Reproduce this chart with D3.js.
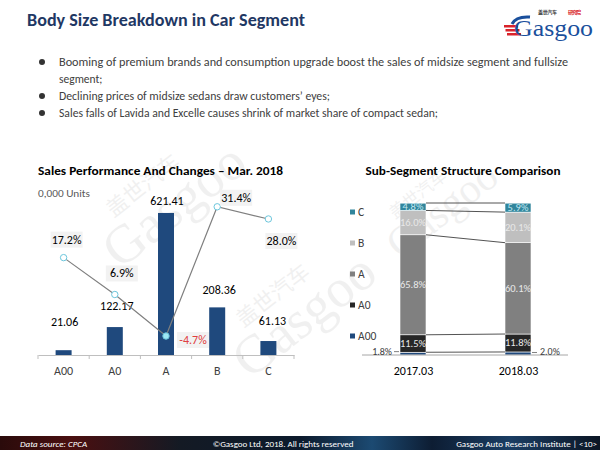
<!DOCTYPE html>
<html><head><meta charset="utf-8">
<script src="https://cdn.jsdelivr.net/npm/d3@7"></script>
<style>body{margin:0;background:#fff}svg{display:block}</style>
</head><body>
<script>
// ---- data ----
const categories = ["A00","A0","A","B","C"];
const sales = [21.06,122.17,621.41,208.36,61.13];
const growth = [17.2,6.9,-4.7,31.4,28.0];
const periods = ["2017.03","2018.03"];
const segments = ["A00","A0","A","B","C"];
const share2017 = [1.8,11.5,65.8,16.0,4.8];
const share2018 = [2.0,11.8,60.1,20.1,5.9];
const bullets = [
 "Booming of premium brands and consumption upgrade boost the sales of midsize segment and fullsize",
 "segment;",
 "Declining prices of midsize sedans draw customers’ eyes;",
 "Sales falls of Lavida and Excelle causes shrink of market share of compact sedan;"
];

const W=600,H=450;
const svg=d3.select("body").append("svg").attr("width",W).attr("height",H);
const F="Carlito, Lato, 'Liberation Sans', sans-serif";

// footer gradient
const defs=svg.append("defs");
const lg=defs.append("linearGradient").attr("id","fg").attr("x1","0").attr("x2","1");
[[0,"#2a0b0b"],[0.12,"#4a0f10"],[0.3,"#141a24"],[0.5,"#0c1a2c"],[0.62,"#1c4a72"],[0.72,"#0d1d33"],[0.85,"#1a3d63"],[1,"#0b1524"]].forEach(s=>lg.append("stop").attr("offset",s[0]).attr("stop-color",s[1]));

// watermarks
function watermark(x,y,rot,s){
  const g=svg.append("g").attr("transform",`translate(${x},${y}) rotate(${rot}) scale(${s})`).attr("opacity",0.09);
  g.append("text").attr("x",0).attr("y",0).attr("font-family","'Liberation Serif',serif").attr("font-size",60).attr("fill","#666").text("Gasgoo");
  g.append("text").attr("x",30).attr("y",-50).attr("font-family","'Noto Sans CJK SC',sans-serif").attr("font-size",24).attr("fill","#666").text("盖世汽车");
}
watermark(120,270,-38,0.9);
watermark(250,380,-38,0.9);
watermark(400,260,-38,0.7);

// title
svg.append("text").attr("x",27).attr("y",26).attr("font-family",F).attr("font-weight","bold").attr("font-size",18).attr("fill","#1F3864")
  .attr("textLength",278).attr("lengthAdjust","spacingAndGlyphs").text("Body Size Breakdown in Car Segment");

// logo
const lgG=svg.append("g");
lgG.append("text").attr("x",538).attr("y",14).attr("font-family","'Noto Sans CJK SC',sans-serif").attr("font-size",5).attr("font-weight","bold").attr("fill","#333").attr("textLength",19).text("盖世汽车");
lgG.append("text").attr("x",568).attr("y",14).attr("font-family","'Noto Sans CJK SC',sans-serif").attr("font-size",5).attr("font-weight","bold").attr("fill","#d9232a").attr("textLength",13).text("研究院");
[0,1,2].forEach(i=>lgG.append("rect").attr("x",504+i*1.5).attr("y",25+i*4).attr("width",14).attr("height",2.5).attr("fill","#d9232a"));
lgG.append("path").attr("d","M512,24 Q516,16 530,17").attr("fill","none").attr("stroke","#1a4f9c").attr("stroke-width",3);
lgG.append("text").attr("x",514).attr("y",36).attr("font-family","'Liberation Serif',serif").attr("font-size",24).attr("fill","#1a4f9c").attr("textLength",79).attr("lengthAdjust","spacingAndGlyphs").text("Gasgoo");

// bullets
const by=[66,83,100,117];
const bw_=[509,null,271,379];
bullets.forEach((t,i)=>{
  if(i!==1) svg.append("circle").attr("cx",42).attr("cy",by[i]-4).attr("r",3).attr("fill","#333");
  const tx=svg.append("text").attr("x",59).attr("y",by[i]).attr("font-family",F).attr("font-size",11.5).attr("fill","#404040").text(t);
  if(bw_[i]) tx.attr("textLength",bw_[i]).attr("lengthAdjust","spacingAndGlyphs");
});

// ---- left chart ----
svg.append("text").attr("x",38).attr("y",175).attr("font-family",F).attr("font-weight","bold").attr("font-size",12).attr("fill","#000")
  .attr("textLength",245).attr("lengthAdjust","spacingAndGlyphs").text("Sales Performance And Changes – Mar. 2018");
svg.append("text").attr("x",38).attr("y",197).attr("font-family",F).attr("font-size",11).attr("fill","#595959")
  .attr("textLength",52).attr("lengthAdjust","spacingAndGlyphs").text("0,000 Units");

const x=d3.scaleBand().domain(categories).range([38,294]);
const y=d3.scaleLinear().domain([0,700]).range([355,195]);
const y2=d3.scaleLinear().domain([-10,40]).range([355,176]);
const bw=16;

svg.selectAll(".bar").data(categories).join("rect")
 .attr("x",d=>x(d)+x.bandwidth()/2-bw/2).attr("width",bw)
 .attr("y",(d,i)=>y(sales[i])).attr("height",(d,i)=>y(0)-y(sales[i])).attr("fill","#1F497D");

const ax=svg.append("g").attr("transform","translate(0,355)").call(d3.axisBottom(x).tickSize(0).tickPadding(11));
ax.select(".domain").attr("stroke","#bfbfbf");
ax.selectAll("text").attr("font-family",F).attr("font-size",12).attr("fill","#404040");
svg.selectAll(".bt").data(d3.range(categories.length+1)).join("line")
 .attr("x1",i=>38+i*x.step()).attr("x2",i=>38+i*x.step()).attr("y1",355).attr("y2",359).attr("stroke","#bfbfbf");

const valOff=[24,17.5,7.5,13.5,16.5];
const valDx=[1,2,1,2,4];
svg.selectAll(".vl").data(categories).join("text")
 .attr("x",(d,i)=>x(d)+x.bandwidth()/2+valDx[i]).attr("y",(d,i)=>y(sales[i])-valOff[i])
 .attr("text-anchor","middle").attr("font-family",F).attr("font-size",12).attr("fill","#000")
 .text((d,i)=>sales[i].toFixed(2));

const line=d3.line().x(d=>x(d.c)+x.bandwidth()/2).y(d=>y2(d.v));
const pts=categories.map((c,i)=>({c,v:growth[i]}));
svg.append("path").attr("d",line(pts)).attr("fill","none").attr("stroke","#7f7f7f").attr("stroke-width",1.2);
svg.selectAll(".pt").data(pts).join("circle")
 .attr("cx",d=>x(d.c)+x.bandwidth()/2).attr("cy",d=>y2(d.v)).attr("r",3.2)
 .attr("fill",(d,i)=>i===2?"#9ee7f5":"#fff").attr("stroke","#6cc6dc").attr("stroke-width",1);

const lOff=[[3,-18],[7,-21],[27,4],[19,-9],[13,22]];
pts.forEach((d,i)=>{
  const cx=x(d.c)+x.bandwidth()/2+lOff[i][0], cy=y2(d.v)+lOff[i][1];
  svg.append("rect").attr("x",cx-16).attr("y",cy-8).attr("width",32).attr("height",16).attr("fill","#f2f2f2");
  svg.append("text").attr("x",cx).attr("y",cy+4).attr("text-anchor","middle").attr("font-family",F).attr("font-size",12)
   .attr("fill",d.v<0?"#e04040":"#000").text(d.v.toFixed(1)+"%");
});

// ---- right chart ----
svg.append("text").attr("x",463).attr("y",175).attr("text-anchor","middle").attr("font-family",F).attr("font-weight","bold").attr("font-size",12).attr("fill","#000")
  .attr("textLength",195).attr("lengthAdjust","spacingAndGlyphs").text("Sub-Segment Structure Comparison");

const colors={A00:"#1F497D",A0:"#262626",A:"#808080",B:"#bfbfbf",C:"#31859C"};
const xb=d3.scalePoint().domain(periods).range([413,518]);
const ys=d3.scaleLinear().domain([0,100]).range([355,203]);
const sbw=26;
const shares=[share2017,share2018];
const stacks=periods.map((p,pi)=>{let c=0;return segments.map((s,si)=>{const v=shares[pi][si];const o={p,s,v,y0:c,y1:c+v};c+=v;return o;});});

stacks.forEach(st=>{
  svg.selectAll(null).data(st).join("rect")
   .attr("x",d=>xb(d.p)-sbw/2).attr("width",sbw)
   .attr("y",d=>ys(d.y1)).attr("height",d=>ys(d.y0)-ys(d.y1))
   .attr("fill",d=>colors[d.s]).attr("stroke","#fff").attr("stroke-width",0.6);
  svg.selectAll(null).data(st.filter(d=>d.s!=="A00")).join("text")
   .attr("x",d=>xb(d.p)).attr("y",d=>(ys(d.y0)+ys(d.y1))/2+3.5)
   .attr("text-anchor","middle").attr("font-family",F).attr("font-size",10.5)
   .attr("fill",d=>d.s==="C"?"#bfe6f0":"#e8e8e8").text(d=>d.v.toFixed(1)+"%");
});
segments.forEach((s,si)=>{
  const a=stacks[0][si], b=stacks[1][si];
  const top=si===segments.length-1;
  svg.append("line").attr("x1",xb(periods[0])+sbw/2).attr("x2",xb(periods[1])-sbw/2)
   .attr("y1",ys(top?100:a.y1)).attr("y2",ys(top?100:b.y1)).attr("stroke","#404040").attr("stroke-width",0.9);
});
const ax2=svg.append("g").attr("transform","translate(0,355)").call(d3.axisBottom(xb).tickSize(0).tickPadding(11));
ax2.select(".domain").attr("d","M362,0H568").attr("stroke","#a6a6a6");
ax2.selectAll("text").attr("font-family",F).attr("font-size",12).attr("fill","#000");
const a0=stacks[0][0], a1=stacks[1][0];
svg.append("line").attr("x1",xb(periods[0])-sbw/2-6).attr("x2",xb(periods[0])-sbw/2-1).attr("y1",ys(a0.v/2)-2).attr("y2",ys(a0.v/2)-2).attr("stroke","#808080");
svg.append("text").attr("x",xb(periods[0])-sbw/2-8).attr("y",ys(a0.v/2)+1).attr("text-anchor","end").attr("font-family",F).attr("font-size",10).attr("fill","#404040").text(a0.v.toFixed(1)+"%");
svg.append("line").attr("x1",xb(periods[1])+sbw/2+1).attr("x2",xb(periods[1])+sbw/2+6).attr("y1",ys(a1.v/2)-1).attr("y2",ys(a1.v/2)-1).attr("stroke","#808080");
svg.append("text").attr("x",xb(periods[1])+sbw/2+9).attr("y",ys(a1.v/2)+2).attr("font-family",F).attr("font-size",10).attr("fill","#404040").text(a1.v.toFixed(1)+"%");
const legY=d3.scalePoint().domain(segments.slice().reverse()).range([212,336]);
segments.forEach(s=>{
  svg.append("rect").attr("x",350).attr("y",legY(s)-2.5).attr("width",5).attr("height",5).attr("fill",colors[s]);
  svg.append("text").attr("x",358).attr("y",legY(s)+4).attr("font-family",F).attr("font-size",11.5).attr("fill","#404040").text(s);
});

// footer
svg.append("rect").attr("x",0).attr("y",436).attr("width",W).attr("height",14).attr("fill","url(#fg)");
svg.append("text").attr("x",20).attr("y",446.5).attr("font-family",F).attr("font-style","italic").attr("font-size",9).attr("fill","#fff").text("Data source: CPCA");
svg.append("text").attr("x",283).attr("y",446.5).attr("text-anchor","middle").attr("font-family",F).attr("font-size",9).attr("fill","#fff").text("©Gasgoo Ltd, 2018.  All rights reserved");
svg.append("text").attr("x",597).attr("y",446.5).attr("text-anchor","end").attr("font-family",F).attr("font-size",9).attr("fill","#fff").text("Gasgoo Auto Research Institute  |  <10>");
</script>
</body></html>
